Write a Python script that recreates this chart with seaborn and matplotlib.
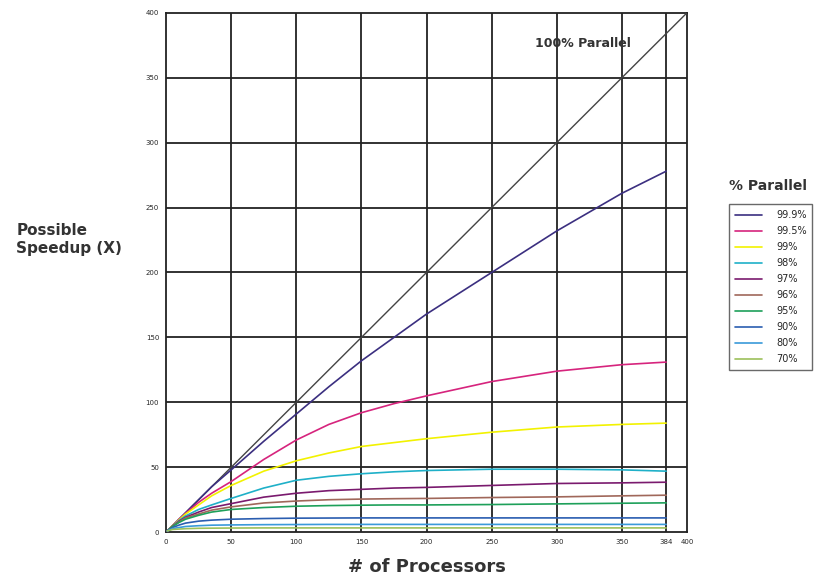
import pandas as pd
import seaborn as sns
import matplotlib
matplotlib.use("Agg")
import matplotlib.pyplot as plt

# values
procs = [1, 5, 10, 15, 25, 35, 50, 75, 100, 125, 150, 175, 200, 250, 300, 350, 384]
labels = ["99.9%", "99.5%", "99%", "98%", "97%", "96%", "95%", "90%", "80%", "70%"]
speedups = [
    [1, 5, 10, 15, 25, 35, 48, 70, 91, 112, 132, 150, 168, 200, 232, 261, 278],
    [1, 5, 10, 14.5, 23, 30, 39, 56, 71, 83, 92, 99, 105, 116, 124, 129, 131],
    [1, 5, 9.5, 14, 21, 28, 36, 47, 55, 61, 66, 69, 72, 77, 81, 83, 84],
    [1, 4.8, 9, 12.5, 17.5, 21, 26, 34, 40, 43, 45, 46.5, 47.5, 48.5, 48.5, 48, 47],
    [1, 4.6, 8.5, 11.5, 15.5, 19, 22, 27, 30, 32, 33, 34, 34.5, 36, 37.5, 38, 38.5],
    [1, 4.5, 8, 11, 14, 17, 19.5, 22.5, 24, 25, 25.5, 25.8, 26, 26.7, 27.2, 28, 28.5],
    [1, 4.4, 7.5, 10, 13, 15.5, 17.5, 19, 20, 20.5, 20.8, 21, 21, 21.3, 21.8, 22.3, 22.6],
    [1, 3.6, 5.5, 7, 8.5, 9.3, 10, 10.5, 10.8, 10.9, 11, 11, 11, 11, 11, 11, 11],
    [1, 2.8, 3.6, 4.4, 5, 5.4, 5.6, 5.8, 5.9, 6, 6, 6, 6, 6, 6, 6, 6],
    [1, 2.1, 2.4, 2.7, 3, 3.1, 3.2, 3.3, 3.3, 3.3, 3.3, 3.3, 3.3, 3.3, 3.3, 3.3, 3.3],
]
colors = ["#3b2f80", "#d6247d", "#f2f200", "#1fb0c8", "#7a1a6e",
          "#a0675a", "#1ea05a", "#2a5db0", "#3a9ad9", "#9cc05a"]
ideal_x = [0, 400]
ideal_y = [0, 400]
xticks = [0, 50, 100, 150, 200, 250, 300, 350, 384, 400]
yticks = [0, 50, 100, 150, 200, 250, 300, 350, 400]

rows = []
for lab, vals in zip(labels, speedups):
    for n, s in zip(procs, vals):
        rows.append({"procs": n, "speedup": s, "parallel": lab})
df = pd.DataFrame(rows)

sns.set_style("white")
fig = plt.figure(figsize=(8.14, 5.81), dpi=100)
ax = fig.add_axes([0.204, 0.084, 0.640, 0.894])

# grid first so curves sit on top
for x in xticks[1:-1]:
    ax.axvline(x, color="#222222", lw=1.3, zorder=1)
for y in yticks[1:-1]:
    ax.axhline(y, color="#222222", lw=1.3, zorder=1)

sns.lineplot(x=ideal_x, y=ideal_y, color="#444444", lw=1.0, ax=ax, zorder=3)
sns.lineplot(data=df, x="procs", y="speedup", hue="parallel", hue_order=labels,
             palette=dict(zip(labels, colors)), estimator=None, lw=1.2, ax=ax, zorder=3)

handles, labs = ax.get_legend_handles_labels()
ax.get_legend().remove()

ax.set_xlim(0, 400)
ax.set_ylim(0, 400)
ax.set_xticks(xticks)
ax.set_yticks(yticks)
ax.tick_params(labelsize=5, length=0, pad=5)
for s in ax.spines.values():
    s.set_color("#222222")
    s.set_linewidth(1.3)

ax.set_xlabel("# of Processors", fontsize=13, fontweight="bold", color="#333333", labelpad=9)
ax.set_ylabel("")
fig.text(0.02, 0.588, "Possible\nSpeedup (X)", fontsize=11, fontweight="bold",
         color="#333333", ha="left", va="center", linespacing=1.3)

ax.text(320, 376, "100% Parallel", fontsize=9, fontweight="bold", color="#333333",
        ha="center", va="center")

fig.text(0.944, 0.68, "% Parallel", fontsize=10, fontweight="bold", color="#333333",
         ha="center", va="center")
fig.legend(handles, labs, loc="upper left", bbox_to_anchor=(0.890, 0.657),
           fontsize=7, frameon=True, fancybox=False, edgecolor="#444444",
           handlelength=2.8, labelspacing=0.62, borderpad=0.6, handletextpad=1.4)

fig.savefig("out.png", dpi=100)
